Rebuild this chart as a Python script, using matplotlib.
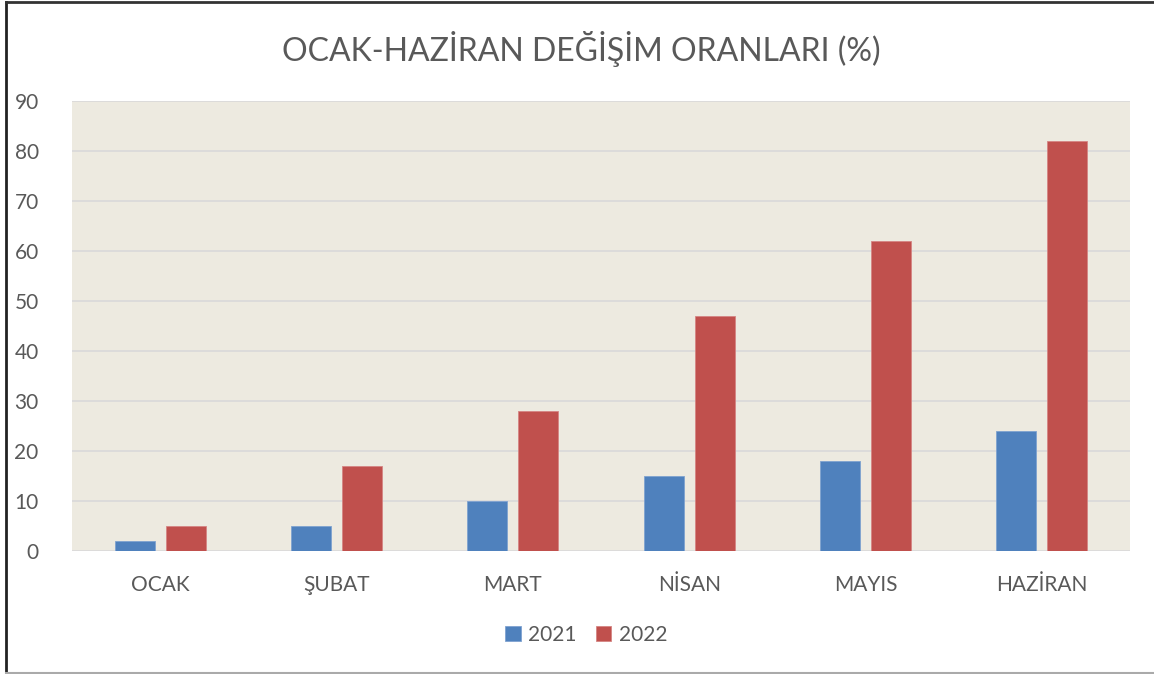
import numpy as np
import matplotlib.pyplot as plt
from matplotlib.lines import Line2D

# ==== veri ====
months = ["OCAK", "ŞUBAT", "MART", "NİSAN", "MAYIS", "HAZİRAN"]
y2021 = [2, 5, 10, 15, 18, 24]
y2022 = [5, 17, 28, 47, 62, 82]

plt.rcParams["font.family"] = ["Lato", "DejaVu Sans"]
txt = "#595959"

fig = plt.figure(figsize=(11.54, 6.74), dpi=100)
ax = fig.add_axes([0.0624, 0.1825, 0.9168, 0.6675])
ax.set_facecolor("#EDEAE0")

x = np.arange(len(months))
w = 0.227
gap = 0.0625
ax.bar(x - (w + gap) / 2, y2021, w, color="#4F81BD", edgecolor="#7FA2D0", linewidth=0.6, label="2021", zorder=3)
ax.bar(x + (w + gap) / 2, y2022, w, color="#C0504D", edgecolor="#D58583", linewidth=0.6, label="2022", zorder=3)

ax.set_xlim(-0.5, len(months) - 0.5)
ax.set_ylim(0, 90)
ax.set_yticks(range(0, 91, 10))
ax.yaxis.grid(True, color="#D9D9D9", linewidth=1.2, zorder=0)
ax.set_axisbelow(True)
for s in ax.spines.values():
    s.set_visible(False)
ax.tick_params(axis="both", length=0, labelsize=15, colors=txt)
ax.tick_params(axis="y", pad=24)
ax.tick_params(axis="x", pad=17)
ax.set_xticks(x)
ax.set_xticklabels(months)

fig.text(0.504, 0.928, "OCAK-HAZİRAN DEĞİŞİM ORANLARI (%)", ha="center", va="center",
         fontsize=23, color=txt)

leg = fig.legend(loc="center", bbox_to_anchor=(0.508, 0.058), ncol=2, frameon=False,
                 fontsize=15, handlelength=0.75, handleheight=0.75, columnspacing=0.9,
                 handletextpad=0.35, labelcolor=txt)

# çerçeve: sol ve üst koyu, alt gri
fig.lines.append(Line2D([0.0056, 0.0056], [0, 0.997], transform=fig.transFigure, color="#222222", linewidth=2))
fig.lines.append(Line2D([0.0056, 1], [0.997, 0.997], transform=fig.transFigure, color="#333333", linewidth=2))
fig.lines.append(Line2D([0.0056, 1], [0.001, 0.001], transform=fig.transFigure, color="#AAAAAA", linewidth=1.5))

fig.savefig("out.png", dpi=100)
